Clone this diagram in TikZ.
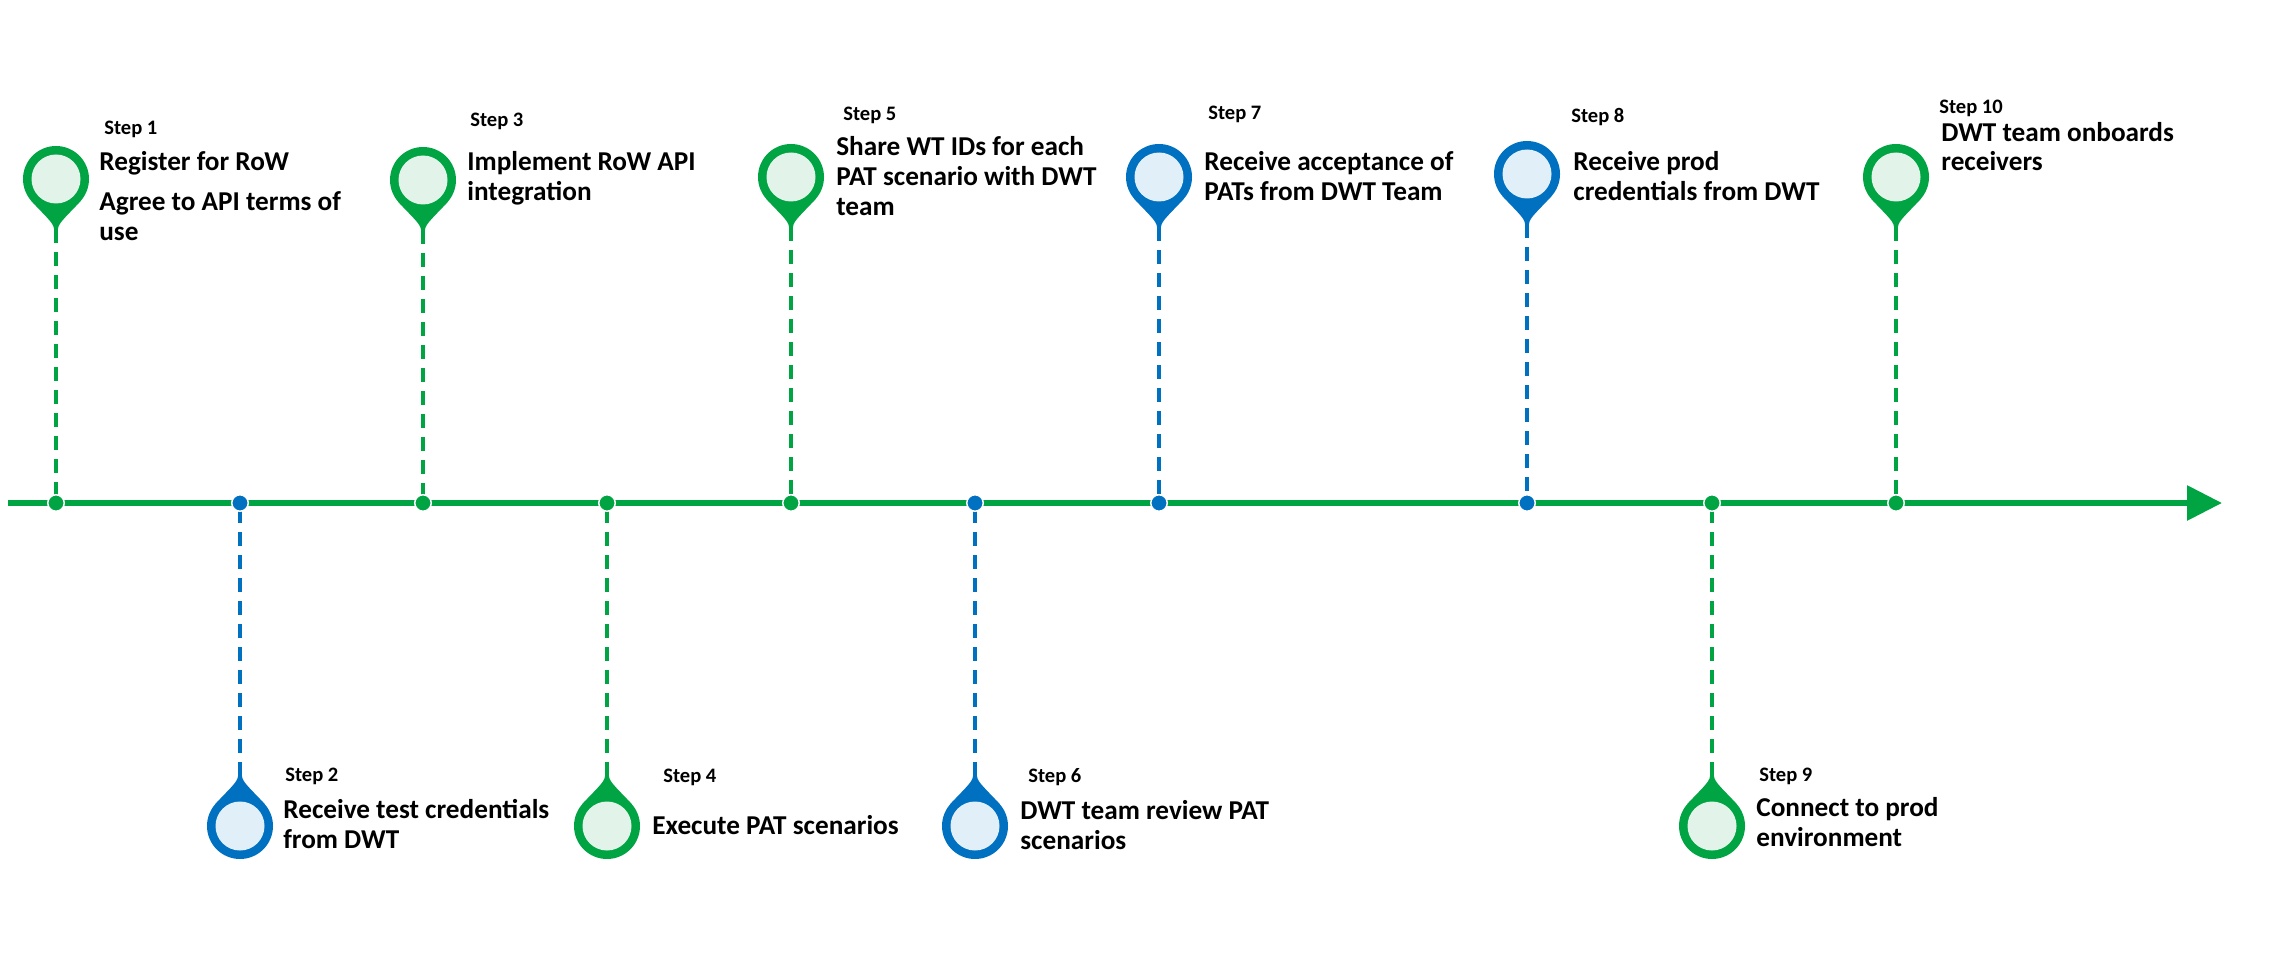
\documentclass[tikz,border=0pt]{standalone}
\usepackage{fontspec}
\setmainfont{Carlito}
\usepackage{xcolor}
\usepackage{tikz}
\usetikzlibrary{arrows.meta,positioning,calc}

\definecolor{rowgreen}{HTML}{00A443}
\definecolor{rowblue}{HTML}{0070C0}
\definecolor{greenfill}{HTML}{E2F4E9}
\definecolor{bluefill}{HTML}{E1EFF9}

\begin{document}
\begin{tikzpicture}[
    x=0.02cm, y=-0.02cm,
    timeline/.style={
        draw=rowgreen,
        line width=0.12cm,
        -{Triangle[length=0.7cm,width=0.68cm]}
    },
    dashg/.style={
        draw=rowgreen,
        line width=0.08cm,
        dash pattern=on 0.28cm off 0.18cm
    },
    dashb/.style={
        dashg,
        draw=rowblue
    },
    dotg/.style={
        circle,
        fill=rowgreen,
        draw=white,
        line width=0.03cm,
        inner sep=0pt,
        minimum size=0.33cm
    },
    dotb/.style={
        dotg,
        fill=rowblue
    },
    steplbl/.style={
        anchor=base west,
        inner sep=0pt,
        font=\fontsize{11.7}{13}\selectfont\bfseries
    },
    desc/.style={
        anchor=base west,
        inner sep=0pt,
        align=left,
        font=\fontsize{15.5}{16.8}\selectfont\bfseries
    },
    pics/pin/.style 2 args={
        code={
            \fill[#1] (24.8,21.8) .. controls (12,36) and (2,44) .. (2,50)
                -- (-2,50) .. controls (-2,44) and (-12,36) .. (-24.8,21.8) -- cycle;
            \fill[#1] (0,0) circle (33);
            \fill[#2] (0,0) circle (24.5);
            \coordinate (-tip) at (0,50);
        }
    }
]
\useasboundingbox (0,0) rectangle (2270,966);

% time axis
\coordinate (tlstart) at (8,503);
\coordinate (tlend) at (2222,503);
\draw[timeline] (tlstart) -- (tlend);

% pins above the axis
\pic (pin1) at (56,179) {pin={rowgreen}{greenfill}};
\pic (pin3) at (423,180) {pin={rowgreen}{greenfill}};
\pic (pin5) at (791,177) {pin={rowgreen}{greenfill}};
\pic (pin7) at (1159,177) {pin={rowblue}{bluefill}};
\pic (pin8) at (1527,174) {pin={rowblue}{bluefill}};
\pic (pin10) at (1896,177) {pin={rowgreen}{greenfill}};

% pins below the axis
\pic[yscale=-1] (pin2) at (240,826) {pin={rowblue}{bluefill}};
\pic[yscale=-1] (pin4) at (607,826) {pin={rowgreen}{greenfill}};
\pic[yscale=-1] (pin6) at (975,826) {pin={rowblue}{bluefill}};
\pic[yscale=-1] (pin9) at (1712,826) {pin={rowgreen}{greenfill}};

% stems
\coordinate (axis1) at (56,503);
\coordinate (axis2) at (240,503);
\coordinate (axis3) at (423,503);
\coordinate (axis4) at (607,503);
\coordinate (axis5) at (791,503);
\coordinate (axis6) at (975,503);
\coordinate (axis7) at (1159,503);
\coordinate (axis8) at (1527,503);
\coordinate (axis9) at (1712,503);
\coordinate (axis10) at (1896,503);

\draw[dashg] (pin1-tip) -- (axis1);
\draw[dashb] (pin2-tip) -- (axis2);
\draw[dashg] (pin3-tip) -- (axis3);
\draw[dashg] (pin4-tip) -- (axis4);
\draw[dashg] (pin5-tip) -- (axis5);
\draw[dashb] (pin6-tip) -- (axis6);
\draw[dashb] (pin7-tip) -- (axis7);
\draw[dashb] (pin8-tip) -- (axis8);
\draw[dashg] (pin9-tip) -- (axis9);
\draw[dashg] (pin10-tip) -- (axis10);

% dots on the axis
\node[dotg] (dot1) at (axis1) {};
\node[dotb] (dot2) at (axis2) {};
\node[dotg] (dot3) at (axis3) {};
\node[dotg] (dot4) at (axis4) {};
\node[dotg] (dot5) at (axis5) {};
\node[dotb] (dot6) at (axis6) {};
\node[dotb] (dot7) at (axis7) {};
\node[dotb] (dot8) at (axis8) {};
\node[dotg] (dot9) at (axis9) {};
\node[dotg] (dot10) at (axis10) {};

% labels above (desc nodes sit on their last line)
\node[steplbl] (lbl1) at (104,135) {Step 1};
\node[desc] (txt1) at (99,240) {Register for RoW\\[0.2cm]Agree to API terms of\\use};
\node[steplbl] (lbl3) at (470,127) {Step 3};
\node[desc] (txt3) at (467,200) {Implement RoW API\\integration};
\node[steplbl] (lbl5) at (843,121) {Step 5};
\node[desc] (txt5) at (836,215) {Share WT IDs for each\\PAT scenario with DWT\\team};
\node[steplbl] (lbl7) at (1208,120) {Step 7};
\node[desc] (txt7) at (1204,200) {Receive acceptance of\\PATs from DWT Team};
\node[steplbl] (lbl8) at (1571,123) {Step 8};
\node[desc] (txt8) at (1573,200) {Receive prod\\credentials from DWT};
\node[steplbl] (lbl10) at (1939,114) {Step 10};
\node[desc] (txt10) at (1941,171) {DWT team onboards\\receivers};

% labels below
\node[steplbl] (lbl2) at (285,781) {Step 2};
\node[desc] (txt2) at (283,848) {Receive test credentials\\from DWT};
\node[steplbl] (lbl4) at (663,782) {Step 4};
\node[desc] (txt4) at (652,834) {Execute PAT scenarios};
\node[steplbl] (lbl6) at (1028,782) {Step 6};
\node[desc] (txt6) at (1020,849) {DWT team review PAT\\scenarios};
\node[steplbl] (lbl9) at (1759,781) {Step 9};
\node[desc] (txt9) at (1756,846) {Connect to prod\\environment};

\end{tikzpicture}
\end{document}
